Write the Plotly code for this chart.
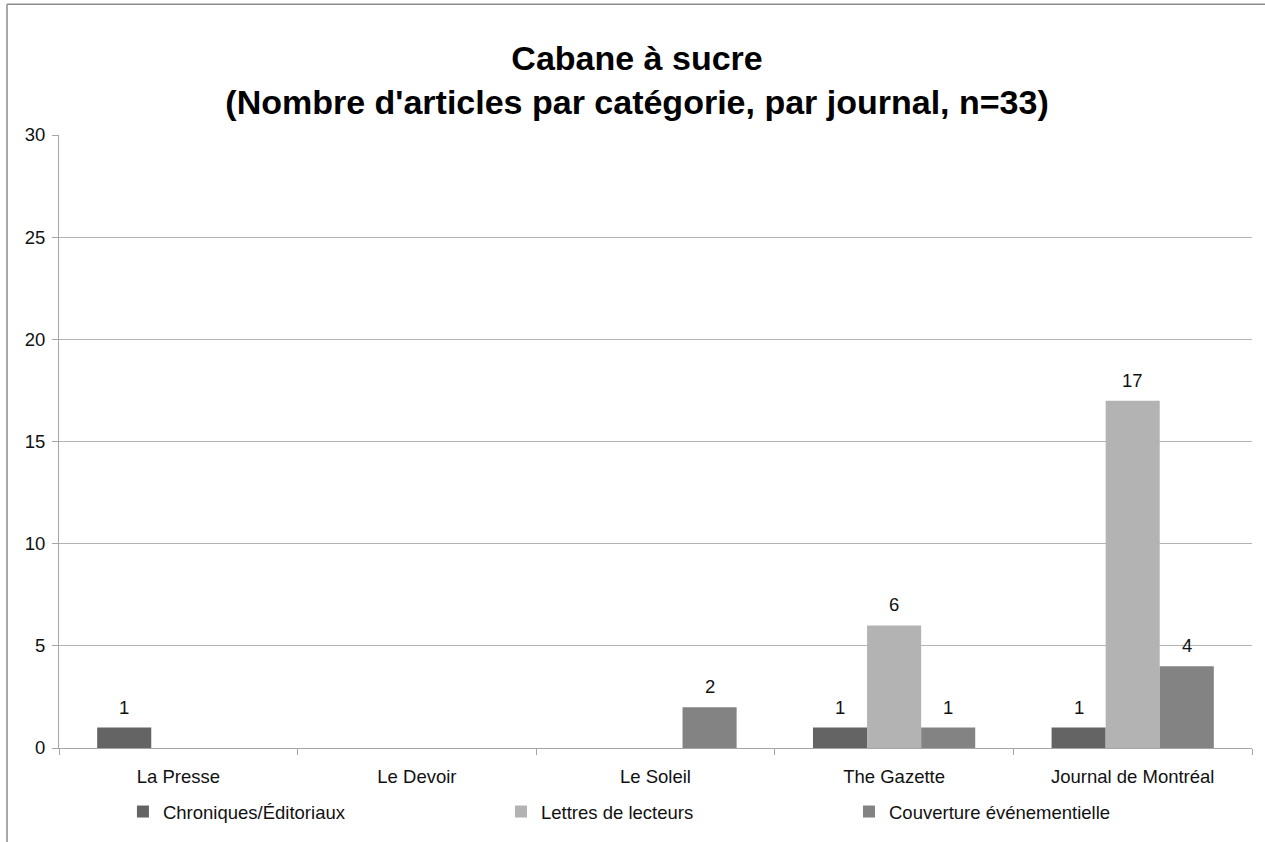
import plotly.graph_objects as go

# Data
journaux = ["La Presse", "Le Devoir", "Le Soleil", "The Gazette", "Journal de Montréal"]
series_names = ["Chroniques/Éditoriaux", "Lettres de lecteurs", "Couverture événementielle"]
chroniques = [1, 0, 0, 1, 1]
lettres = [0, 0, 0, 6, 17]
couverture = [0, 0, 2, 1, 4]
y_ticks = [0, 5, 10, 15, 20, 25, 30]

colors = ["#646464", "#b3b3b3", "#838383"]
font_family = "Liberation Sans, Arial, sans-serif"
txt_size = 18.5

W, H = 1265, 842
margin = dict(l=59, r=13, t=135, b=93)
pw = W - margin["l"] - margin["r"]
ph = H - margin["t"] - margin["b"]

fig = go.Figure()
all_values = [chroniques, lettres, couverture]
legend_ids = ["legend", "legend2", "legend3"]
for name, vals, col, lg in zip(series_names, all_values, colors, legend_ids):
    fig.add_trace(go.Bar(
        x=journaux, y=vals, name=name,
        marker=dict(color=col, line=dict(width=0)),
        legend=lg, showlegend=True,
    ))

# data labels above the non-zero bars
bar_px = 54
for i, vals in enumerate(all_values):
    for cat, v in zip(journaux, vals):
        if v:
            fig.add_annotation(
                x=cat, y=v, text=str(v), showarrow=False,
                xshift=(i - 1) * bar_px, yshift=8, yanchor="bottom",
                font=dict(size=txt_size, color="#111111", family=font_family),
            )

# frame lines (left and top edges of the chart box)
fx = (7 - margin["l"]) / pw
fy = (H - margin["b"] - 4) / ph
fig.add_shape(type="line", xref="paper", yref="paper", x0=fx, x1=fx, y0=-0.2, y1=fy,
              line=dict(color="#8c8c8c", width=1.5))
fig.add_shape(type="line", xref="paper", yref="paper", x0=fx, x1=1.02, y0=fy, y1=fy,
              line=dict(color="#8c8c8c", width=1.5))

legend_style = dict(orientation="h", yanchor="middle", y=-0.1026, xanchor="left",
                    bgcolor="rgba(0,0,0,0)",
                    font=dict(size=txt_size, color="#111111", family=font_family))

fig.update_layout(
    width=W, height=H,
    margin=margin,
    showlegend=True,
    paper_bgcolor="white", plot_bgcolor="white",
    font=dict(family=font_family, size=txt_size, color="#111111"),
    title=dict(
        text="Cabane à sucre<br>(Nombre d'articles par catégorie, par journal, n=33)",
        x=0.5036, xref="container", xanchor="center",
        y=0.917, yref="container", yanchor="middle",
        font=dict(size=34, color="#000000", family=font_family, weight="bold"),
    ),
    barmode="group", bargap=0.32, bargroupgap=0,
    legend=dict(legend_style, x=0.0536),
    legend2=dict(legend_style, x=0.3705),
    legend3=dict(legend_style, x=0.6622),
    xaxis=dict(
        showline=True, linecolor="#a6a6a6", linewidth=1,
        ticks="outside", tickson="boundaries", ticklen=6, tickcolor="#a6a6a6",
        showgrid=False, tickfont=dict(size=txt_size), ticklabelstandoff=12,
    ),
    yaxis=dict(
        range=[0, 30], tickvals=y_ticks,
        showline=True, linecolor="#a6a6a6", linewidth=1,
        ticks="outside", ticklen=6, tickcolor="#a6a6a6",
        showgrid=True, gridcolor="#b3b3b3", gridwidth=1,
        zeroline=False, tickfont=dict(size=txt_size), ticklabelstandoff=3,
    ),
)

# drop the default 8px page margin so the chart sits at the window's corner
fig.write_html("out.html", config={"displayModeBar": False},
               post_script="document.body.style.margin='0';")
